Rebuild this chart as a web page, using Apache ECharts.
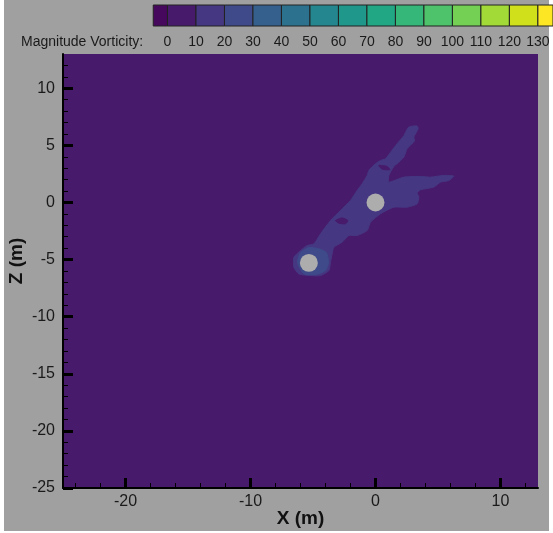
<!DOCTYPE html>
<html><head><meta charset="utf-8">
<script src="https://cdn.jsdelivr.net/npm/echarts@6/dist/echarts.min.js"></script>
<style>
html,body{margin:0;padding:0;background:#fff;}
#bg{position:absolute;left:4px;top:0;width:545px;height:531px;background:#a0a0a0;}
#main{position:absolute;left:0;top:0;width:553px;height:533px;}
</style>
</head><body><div id="bg"></div><div id="main"></div>
<script>
// ---- data ----
const levelEdges = [-5,0,10,20,30,40,50,60,70,80,90,100,110,120,130,140];
const levelColors = ['#46085c','#481a6c','#453781','#3e4a89','#35608d','#2c728e','#24868e','#1f988b','#22a785','#35b779','#4ec36b','#74d055','#a2da37','#d0e11c','#fde725'];
const levelLabels = [0,10,20,30,40,50,60,70,80,90,100,110,120,130];

// 10-20 level plume outline (X m, Z m)
const plumeX = [2.67,3.33,3.41,3.07,3.12,2.53,2.27,1.73,1.47,1.07,1.07,2.27,3.60,4.40,5.47,6.27,5.87,5.20,4.67,3.60,3.33,3.47,3.33,2.53,1.47,0.40,-0.40,-0.67,-1.47,-2.13,-2.67,-3.33,-3.47,-3.60,-3.73,-4.40,-5.20,-6.13,-6.53,-6.53,-6.00,-5.47,-4.93,-4.40,-3.60,-2.80,-2.00,-1.47,-1.07,-0.67,-0.53,0.00,0.40,0.80,1.20,1.73,2.27,2.40];
const plumeY = [6.61,6.70,6.46,5.73,5.38,4.71,3.98,3.39,3.16,2.37,1.78,2.22,2.28,2.22,2.37,2.31,1.93,1.78,1.35,1.11,0.82,0.47,-0.12,-0.41,-0.41,-0.99,-1.73,-2.46,-2.89,-2.89,-3.48,-3.92,-4.50,-5.24,-5.96,-6.40,-6.40,-6.26,-5.67,-4.80,-4.21,-3.77,-3.62,-2.75,-1.58,-0.70,0.18,1.05,1.64,2.37,2.81,3.39,3.68,3.83,4.39,5.15,5.85,6.14];
// 0-10 level holes inside plume
const holeAX = [0.27,0.93,1.15,0.53];
const holeAY = [3.24,3.16,2.87,2.92];
const holeBX = [-3.20,-2.67,-2.21,-2.40,-2.93];
const holeBY = [-1.58,-1.35,-1.58,-1.87,-1.81];
// 20-30 level patch near lower cylinder
const coreX = [-6.24,-6.00,-5.36,-4.56,-3.92,-3.76,-4.00,-4.80,-5.76];
const coreY = [-5.26,-4.39,-3.95,-4.04,-4.39,-5.26,-5.96,-6.32,-6.23];
// cylinders (blanked)
const cylX = [0, -5.33];
const cylY = [0, -5.29];
const cylR = [0.75, 0.75];

const xMajor = [-20,-10,0,10];
const xMinor = [-24,-22,-18,-16,-14,-12,-8,-6,-4,-2,2,4,6,8,12];
const yMajor = [-25,-20,-15,-10,-5,0,5,10];
const yMinor = [-24,-23,-22,-21,-19,-18,-17,-16,-14,-13,-12,-11,-9,-8,-7,-6,-4,-3,-2,-1,1,2,3,4,6,7,8,9,11,12];

// ---- chart ----
const FONT = '"Liberation Sans", Arial, sans-serif';
const regions = [
  {xs: plumeX, ys: plumeY, color: levelColors[2]},
  {xs: holeAX, ys: holeAY, color: levelColors[1]},
  {xs: holeBX, ys: holeBY, color: levelColors[1]},
  {xs: coreX, ys: coreY, color: levelColors[3]}
];
const chart = echarts.init(document.getElementById('main'), null, {renderer: 'canvas'});
const majorTick = (vals) => ({show: true, inside: true, length: 10, customValues: vals, lineStyle: {color: '#000', width: 3}});
const minorTick = (vals) => ({show: true, inside: true, length: 5, customValues: vals, lineStyle: {color: '#000', width: 1}});
chart.setOption({
  backgroundColor: 'transparent',
  animation: false,
  title: {text: 'Magnitude Vorticity:', left: 21, top: 35, padding: 0,
    textStyle: {fontFamily: FONT, fontSize: 14, fontWeight: 'normal', color: '#1a1a1a'}},
  grid: [
    {left: 63, top: 54, width: 475, height: 434, show: true, backgroundColor: levelColors[1], borderWidth: 0,
     containLabel: false, outerBoundsMode: 'none'},
    {left: 139, top: 5, width: 414, height: 21, show: false, containLabel: false, outerBoundsMode: 'none'}
  ],
  xAxis: [
    {gridIndex: 0, type: 'value', min: -25, max: 13, position: 'bottom',
     axisLine: {show: true, onZero: false, lineStyle: {color: '#000', width: 2}},
     axisTick: majorTick(xMajor),
     axisLabel: {customValues: xMajor, fontFamily: FONT, fontSize: 16, color: '#1a1a1a', margin: 6},
     splitLine: {show: false},
     name: 'X (m)', nameLocation: 'middle', nameGap: 21, nameMoveOverlap: false,
     nameTextStyle: {fontFamily: FONT, fontSize: 19, fontWeight: 'bold', color: '#111'}},
    {gridIndex: 0, type: 'value', min: -25, max: 13, position: 'bottom',
     axisLine: {show: false, onZero: false}, axisTick: minorTick(xMinor), axisLabel: {show: false}, splitLine: {show: false}},
    {gridIndex: 1, type: 'value', min: -10, max: 135.3, position: 'bottom',
     axisLine: {show: false, onZero: false}, axisTick: {show: false}, splitLine: {show: false},
     axisLabel: {customValues: levelLabels, fontFamily: FONT, fontSize: 14, color: '#1a1a1a', margin: 9}}
  ],
  yAxis: [
    {gridIndex: 0, type: 'value', min: -25, max: 13, position: 'left',
     axisLine: {show: true, onZero: false, lineStyle: {color: '#000', width: 2}},
     axisTick: majorTick(yMajor),
     axisLabel: {customValues: yMajor, fontFamily: FONT, fontSize: 16, color: '#1a1a1a', margin: 8},
     splitLine: {show: false},
     name: 'Z (m)', nameLocation: 'middle', nameGap: 37, nameMoveOverlap: false,
     nameTextStyle: {fontFamily: FONT, fontSize: 19, fontWeight: 'bold', color: '#111', padding: [0, 0, 0, 20]}},
    {gridIndex: 0, type: 'value', min: -25, max: 13, position: 'left',
     axisLine: {show: false, onZero: false}, axisTick: minorTick(yMinor), axisLabel: {show: false}, splitLine: {show: false}},
    {gridIndex: 1, type: 'value', min: 0, max: 1, show: false}
  ],
  series: [
    {type: 'custom', xAxisIndex: 0, yAxisIndex: 0, data: regions.map((r, i) => i), z: 2,
     renderItem: function (params, api) {
       const r = regions[params.dataIndex];
       const pts = r.xs.map((x, k) => api.coord([x, r.ys[k]]));
       return {type: 'polygon', shape: {points: pts, smooth: 0.2}, style: {fill: r.color, stroke: r.color, lineWidth: 1}};
     }},
    {type: 'custom', xAxisIndex: 0, yAxisIndex: 0, data: cylX.map((x, i) => i), z: 3,
     renderItem: function (params, api) {
       const i = params.dataIndex;
       const c = api.coord([cylX[i], cylY[i]]);
       const s = api.size([cylR[i], cylR[i]]);
       return {type: 'circle', shape: {cx: c[0], cy: c[1], r: (s[0] + s[1]) / 2}, style: {fill: '#adadad'}};
     }},
    {type: 'custom', xAxisIndex: 2, yAxisIndex: 2, data: levelColors.map((c, i) => i), z: 2,
     renderItem: function (params, api) {
       const i = params.dataIndex;
       const p0 = api.coord([levelEdges[i], 1]);
       const p1 = api.coord([levelEdges[i + 1], 0]);
       const cs = params.coordSys;
       const rect = echarts.graphic.clipRectByRect(
         {x: p0[0], y: p0[1], width: p1[0] - p0[0], height: p1[1] - p0[1]},
         {x: cs.x, y: cs.y, width: cs.width, height: cs.height});
       return rect && {type: 'rect', shape: rect, style: {fill: levelColors[i], stroke: '#222', lineWidth: 1}};
     }}
  ]
});
</script>
</body></html>
